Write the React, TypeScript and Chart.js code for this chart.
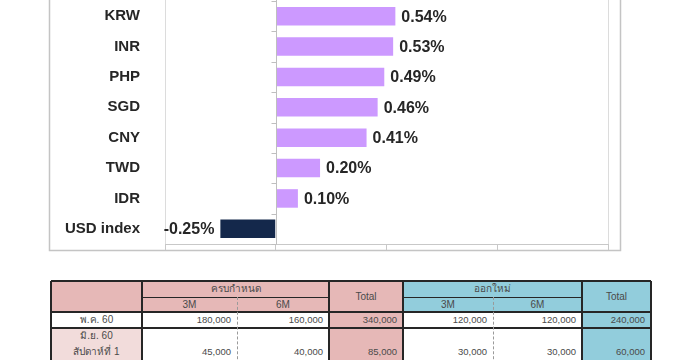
import React, { useEffect, useRef } from "react";
import { Chart, registerables } from "chart.js";
Chart.register(...registerables);

// ---- Chart data ----
const categories = ["KRW", "INR", "PHP", "SGD", "CNY", "TWD", "IDR", "USD index"];
const changes = [0.54, 0.53, 0.49, 0.46, 0.41, 0.2, 0.1, -0.25];
const xMin = -0.5;
const xMax = 1.5;
const xStep = 0.5;

// ---- Table data ----
const groupLabels = ["ครบกำหนด", "ออกใหม่"];
const tenorLabels = ["3M", "6M"];
const totalLabel = "Total";
const rowLabels = [["พ.ค. 60"], ["มิ.ย. 60", "สัปดาห์ที่ 1"]];
const maturing3M = [180000, 45000];
const maturing6M = [160000, 40000];
const maturingTotal = [340000, 85000];
const newIssue3M = [120000, 30000];
const newIssue6M = [120000, 30000];
const newIssueTotal = [240000, 60000];

const POS = "#cc99ff";
const NEG = "#14284b";
const LBL = "#262626";
const FONT = "'Liberation Sans', Arial, sans-serif";

const decorPlugin = {
  id: "decor",
  beforeDraw(chart: any) {
    const ctx = chart.ctx;
    const { left, right, bottom } = chart.chartArea;
    ctx.save();
    ctx.strokeStyle = "#dcdcdc";
    ctx.lineWidth = 1;
    ctx.beginPath();
    const l = Math.round(left) + 0.5;
    const r = Math.round(right) + 0.5;
    ctx.moveTo(l, 0);
    ctx.lineTo(l, bottom);
    ctx.moveTo(r, 0);
    ctx.lineTo(r, bottom);
    ctx.stroke();
    // outer frame
    ctx.strokeStyle = "#c4c4c4";
    ctx.lineWidth = 1.5;
    ctx.beginPath();
    ctx.moveTo(49.5, 0);
    ctx.lineTo(49.5, 250.5);
    ctx.lineTo(620.5, 250.5);
    ctx.lineTo(620.5, 0);
    ctx.stroke();
    ctx.restore();
  },
  afterDatasetsDraw(chart: any) {
    const ctx = chart.ctx;
    const xs = chart.scales.x;
    const ys = chart.scales.y;
    const { top, bottom } = chart.chartArea;
    ctx.save();
    const zx = Math.round(xs.getPixelForValue(0)) + 0.5;
    ctx.strokeStyle = "#bfbfbf";
    ctx.lineWidth = 1;
    ctx.beginPath();
    ctx.moveTo(zx, top - 2);
    ctx.lineTo(zx, bottom);
    for (let i = 0; i <= categories.length; i++) {
      const y = Math.round(ys.getPixelForValue(i - 0.5)) + 0.5;
      ctx.moveTo(zx - 5, y);
      ctx.lineTo(zx, y);
    }
    ctx.stroke();
    // value labels
    const meta = chart.getDatasetMeta(0);
    ctx.font = `bold 16px ${FONT}`;
    ctx.fillStyle = LBL;
    ctx.textBaseline = "middle";
    meta.data.forEach((bar: any, i: number) => {
      const v = changes[i];
      const txt = v.toFixed(2) + "%";
      if (v >= 0) {
        ctx.textAlign = "left";
        ctx.fillText(txt, bar.x + 6, bar.y + 1);
      } else {
        ctx.textAlign = "right";
        ctx.fillText(txt, bar.x - 6, bar.y + 1);
      }
    });
    ctx.restore();
  },
};

function BarChart() {
  const ref = useRef<HTMLCanvasElement | null>(null);
  useEffect(() => {
    if (!ref.current) return;
    const chart = new Chart(ref.current, {
      type: "bar",
      data: {
        labels: categories,
        datasets: [
          {
            data: changes,
            backgroundColor: changes.map((v) => (v >= 0 ? POS : NEG)),
            borderWidth: 0,
            barPercentage: 0.61,
            categoryPercentage: 1,
          },
        ],
      },
      options: {
        indexAxis: "y",
        responsive: false,
        animation: false,
        devicePixelRatio: 1,
        layout: { padding: { left: 49, right: 77, top: 1, bottom: 2 } },
        plugins: { legend: { display: false }, tooltip: { enabled: false } },
        scales: {
          x: {
            type: "linear",
            min: xMin,
            max: xMax,
            ticks: { stepSize: xStep, display: false },
            grid: { drawOnChartArea: false, drawTicks: true, tickLength: 6, color: "#c8c8c8" },
            border: { display: true, color: "#c8c8c8" },
            afterFit: (scale: any) => {
              scale.paddingLeft = 0;
              scale.paddingRight = 0;
            },
          },
          y: {
            type: "category",
            grid: { display: false },
            border: { display: false },
            ticks: {
              font: { family: FONT, size: 15, weight: "bold" },
              color: LBL,
              padding: 17,
            },
            afterFit: (scale: any) => {
              scale.width = 116;
              scale.paddingTop = 0;
              scale.paddingBottom = 0;
            },
          },
        },
      },
      plugins: [decorPlugin],
    } as any);
    return () => chart.destroy();
  }, []);
  return (
    <canvas
      ref={ref}
      width={685}
      height={252}
      style={{ position: "absolute", left: 0, top: 0, width: 685, height: 252 }}
    />
  );
}

// ---- Table ----
const colX = [51, 142, 237, 329, 403, 493, 582, 651];
const rowY = [281, 297, 312, 328, 374];
const PINK = "#e6b8b7";
const LPINK = "#f2dcdb";
const BLUE = "#92cddc";
const LINE = "#262626";
const TXT = "#4a4a4a";
const fmt = (n: number) => n.toLocaleString("en-US");

function Rect({ x1, y1, x2, y2, bg }: any) {
  return <div style={{ position: "absolute", left: x1, top: y1, width: x2 - x1, height: y2 - y1, background: bg }} />;
}
function HLine({ x1, x2, y, w = 1.5 }: any) {
  return <div style={{ position: "absolute", left: x1, top: y - w / 2, width: x2 - x1, height: w, background: LINE }} />;
}
function VLine({ x, y1, y2, w = 1.5, dashed = false }: any) {
  if (dashed)
    return <div style={{ position: "absolute", left: x, top: y1, height: y2 - y1, width: 0, borderLeft: "1px dashed #9a9a9a" }} />;
  return <div style={{ position: "absolute", left: x - w / 2, top: y1, width: w, height: y2 - y1, background: LINE }} />;
}
function Txt({ x, y, text, align = "center", size = 10 }: any) {
  const w = 140;
  let left = x - w / 2;
  if (align === "right") left = x - w;
  return (
    <div
      style={{
        position: "absolute",
        left,
        top: y - 7,
        width: w,
        height: 14,
        lineHeight: "14px",
        textAlign: align,
        fontFamily: FONT,
        fontSize: size,
        color: TXT,
        whiteSpace: "nowrap",
      }}
    >
      {text}
    </div>
  );
}

function DataTable() {
  const cells: any[] = [];
  // backgrounds
  cells.push(<Rect key="b1" x1={colX[0]} y1={rowY[0]} x2={colX[4]} y2={rowY[2]} bg={PINK} />);
  cells.push(<Rect key="b2" x1={colX[4]} y1={rowY[0]} x2={colX[7]} y2={rowY[2]} bg={BLUE} />);
  cells.push(<Rect key="b3" x1={colX[0]} y1={rowY[2]} x2={colX[7]} y2={rowY[4]} bg="#ffffff" />);
  cells.push(<Rect key="b4" x1={colX[0]} y1={rowY[3]} x2={colX[1]} y2={rowY[4]} bg={LPINK} />);
  cells.push(<Rect key="b5" x1={colX[3]} y1={rowY[2]} x2={colX[4]} y2={rowY[4]} bg={PINK} />);
  cells.push(<Rect key="b6" x1={colX[6]} y1={rowY[2]} x2={colX[7]} y2={rowY[4]} bg={BLUE} />);
  // lines
  cells.push(<HLine key="h0" x1={colX[0]} x2={colX[7]} y={rowY[0]} />);
  cells.push(<HLine key="h1a" x1={colX[1]} x2={colX[3]} y={rowY[1]} w={1} />);
  cells.push(<HLine key="h1b" x1={colX[4]} x2={colX[6]} y={rowY[1]} w={1} />);
  cells.push(<HLine key="h2" x1={colX[0]} x2={colX[7]} y={rowY[2]} />);
  cells.push(<HLine key="h3" x1={colX[0]} x2={colX[7]} y={rowY[3]} />);
  [0, 1, 3, 4, 6, 7].forEach((ci) =>
    cells.push(<VLine key={"v" + ci} x={colX[ci]} y1={rowY[0]} y2={rowY[4]} />)
  );
  cells.push(<VLine key="d1" x={colX[2]} y1={rowY[1]} y2={rowY[4]} dashed />);
  cells.push(<VLine key="d2" x={colX[5]} y1={rowY[1]} y2={rowY[4]} dashed />);
  // header text
  const hy1 = (rowY[0] + rowY[1]) / 2;
  const hy2 = (rowY[1] + rowY[2]) / 2;
  cells.push(<Txt key="g0" x={(colX[1] + colX[3]) / 2} y={hy1} text={groupLabels[0]} />);
  cells.push(<Txt key="g1" x={(colX[4] + colX[6]) / 2} y={hy1} text={groupLabels[1]} />);
  cells.push(<Txt key="t0" x={(colX[1] + colX[2]) / 2} y={hy2} text={tenorLabels[0]} />);
  cells.push(<Txt key="t1" x={(colX[2] + colX[3]) / 2} y={hy2} text={tenorLabels[1]} />);
  cells.push(<Txt key="t2" x={(colX[4] + colX[5]) / 2} y={hy2} text={tenorLabels[0]} />);
  cells.push(<Txt key="t3" x={(colX[5] + colX[6]) / 2} y={hy2} text={tenorLabels[1]} />);
  cells.push(<Txt key="T0" x={(colX[3] + colX[4]) / 2} y={(rowY[0] + rowY[2]) / 2} text={totalLabel} />);
  cells.push(<Txt key="T1" x={(colX[6] + colX[7]) / 2} y={(rowY[0] + rowY[2]) / 2} text={totalLabel} />);
  // rows
  const valueY = [(rowY[2] + rowY[3]) / 2, 352];
  rowLabels.forEach((lines, ri) => {
    if (lines.length === 1) {
      cells.push(<Txt key={"rl" + ri} x={(colX[0] + colX[1]) / 2} y={valueY[ri]} text={lines[0]} />);
    } else {
      lines.forEach((ln, li) =>
        cells.push(<Txt key={"rl" + ri + li} x={(colX[0] + colX[1]) / 2} y={336 + li * 16} text={ln} />)
      );
    }
    const vals = [maturing3M[ri], maturing6M[ri], maturingTotal[ri], newIssue3M[ri], newIssue6M[ri], newIssueTotal[ri]];
    vals.forEach((v, ci) =>
      cells.push(
        <Txt key={"v" + ri + ci} x={colX[ci + 2] - 6} y={valueY[ri]} text={fmt(v)} align="right" size={9.5} />
      )
    );
  });
  return <>{cells}</>;
}

export default function App() {
  return (
    <div style={{ position: "absolute", left: 0, top: 0, width: 685, height: 360, overflow: "hidden", background: "#fff" }}>
      <BarChart />
      <DataTable />
    </div>
  );
}
